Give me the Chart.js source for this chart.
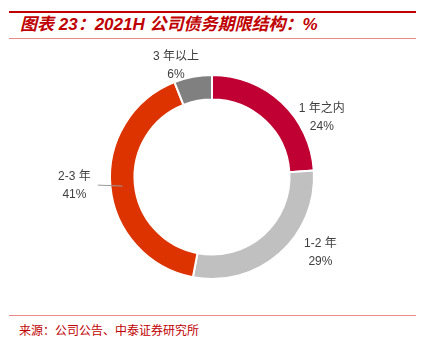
<!DOCTYPE html>
<html>
<head>
<meta charset="utf-8">
<script src="https://cdn.jsdelivr.net/npm/chart.js@4.4.0/dist/chart.umd.min.js"></script>
<style>
  html, body { margin: 0; padding: 0; background: #fff; }
  body { width: 424px; height: 340px; position: relative; overflow: hidden; }
  .rule-top { position: absolute; left: 9px; width: 407px; top: 11px; height: 2px; background: #c00000; }
  .rule-thin { position: absolute; left: 9px; width: 407px; height: 1px; background: #e88a8a; }
  .title {
    position: absolute; left: 20px; top: 15px; line-height: 20px;
    font-style: italic; font-weight: bold; font-size: 17px;
    font-family: "Liberation Sans", "Noto Sans CJK SC", sans-serif;
    color: #c00000; white-space: nowrap;
  }
  .source {
    position: absolute; left: 19px; top: 321px;
    font: 12px "Noto Sans CJK SC", sans-serif;
    color: #c00000; white-space: nowrap;
  }
  #wrap { position: absolute; left: 0; top: 40px; width: 424px; height: 270px; }
</style>
</head>
<body>
<div class="rule-top"></div>
<div class="title">图表 23：2021H 公司债务期限结构：%</div>
<div class="rule-thin" style="top:38px"></div>
<div id="wrap"><canvas id="c" width="424" height="270"></canvas></div>
<div class="rule-thin" style="top:315px"></div>
<div class="source">来源：公司公告、中泰证券研究所</div>

<script>
// 数据
const categories = ["1 年之内", "1-2 年", "2-3 年", "3 年以上"];
const values = [24, 29, 41, 6];
const colors = ["#c00033", "#c0c0c0", "#dd3300", "#808080"];

// ラベル位置の微調整（弧の外側中点からのずらし）
const labelNudge = [[40, 15], [41, -1], [-36, -1], [-17, -11]];
const leader = [false, false, true, false];

const labelPlugin = {
  id: "sliceLabels",
  afterDraw(chart) {
    const ctx = chart.ctx;
    const meta = chart.getDatasetMeta(0);
    ctx.save();
    ctx.font = '12px "Liberation Sans", "Noto Sans CJK SC", sans-serif';
    ctx.fillStyle = "#404040";
    ctx.textAlign = "center";
    ctx.textBaseline = "middle";
    meta.data.forEach((arc, i) => {
      const p = arc.getProps(["x", "y", "startAngle", "endAngle", "outerRadius"], true);
      const mid = (p.startAngle + p.endAngle) / 2;
      const ax = p.x + Math.cos(mid) * p.outerRadius;
      const ay = p.y + Math.sin(mid) * p.outerRadius;
      const lx = ax + labelNudge[i][0];
      const ly = ay + labelNudge[i][1];
      ctx.fillText(categories[i], lx, ly - 9);
      ctx.fillText(values[i] + "%", lx, ly + 9);
      if (leader[i]) {
        const w = ctx.measureText(categories[i]).width;
        const y0 = ly;
        const x0 = lx + w / 2 + 7;
        const xEdge = p.x - Math.sqrt(p.outerRadius * p.outerRadius - (y0 - p.y) * (y0 - p.y));
        ctx.strokeStyle = "#999999";
        ctx.lineWidth = 1;
        ctx.beginPath();
        ctx.moveTo(x0, y0 - 0.5);
        ctx.lineTo(xEdge + 12, y0 + 0.5);
        ctx.stroke();
      }
    });
    ctx.restore();
  }
};

new Chart(document.getElementById("c"), {
  type: "doughnut",
  data: {
    labels: categories,
    datasets: [{
      data: values,
      backgroundColor: colors,
      borderColor: "#ffffff",
      borderWidth: 2
    }]
  },
  options: {
    responsive: false,
    animation: false,
    cutout: "76%",
    layout: { padding: { left: 109, right: 109, top: 34, bottom: 30 } },
    plugins: {
      legend: { display: false },
      tooltip: { enabled: false }
    }
  },
  plugins: [labelPlugin]
});
</script>
</body>
</html>
